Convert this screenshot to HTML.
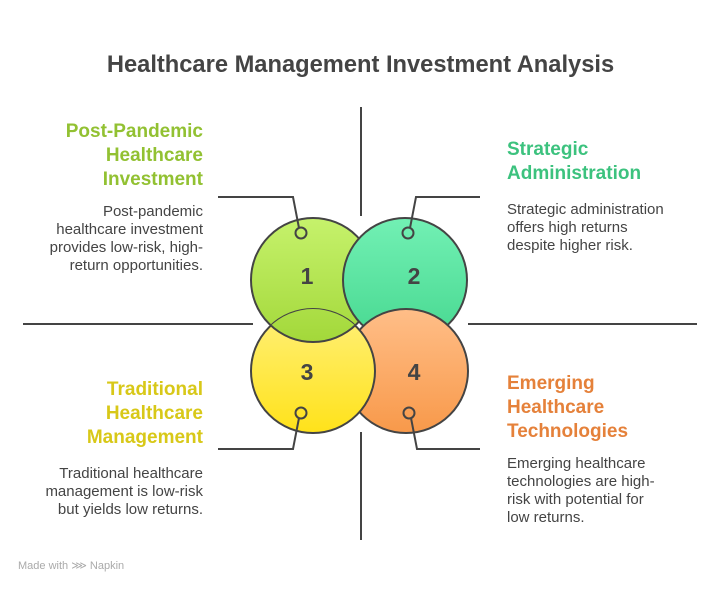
<!DOCTYPE html>
<html><head><style>
body{margin:0;width:721px;height:589px;background:#fff;font-family:"Liberation Sans",sans-serif;overflow:hidden;position:relative}
.t{position:absolute;white-space:nowrap}
.h{font-weight:bold;font-size:19px;line-height:24px}
.b{font-size:15px;line-height:18px;color:#444}
.r{text-align:right}
</style></head><body>
<svg width="721" height="589" style="position:absolute;left:0;top:0">
<defs>
<linearGradient id="g1" x1="0" y1="0" x2="0" y2="1"><stop offset="0" stop-color="#c6f26c"/><stop offset="1" stop-color="#a3d83a"/></linearGradient>
<linearGradient id="g2" x1="0" y1="0" x2="0" y2="1"><stop offset="0" stop-color="#72f0b4"/><stop offset="1" stop-color="#47d890"/></linearGradient>
<linearGradient id="g3" x1="0" y1="0" x2="0" y2="1"><stop offset="0" stop-color="#fff07a"/><stop offset="1" stop-color="#ffe21a"/></linearGradient>
<linearGradient id="g4" x1="0" y1="0" x2="0" y2="1"><stop offset="0" stop-color="#ffbe88"/><stop offset="1" stop-color="#f8994a"/></linearGradient>
<clipPath id="c3"><circle cx="313" cy="371" r="62"/></clipPath>
</defs>
<g stroke="#444" stroke-width="2" fill="none">
<line x1="361" y1="107" x2="361" y2="216"/><line x1="361" y1="432" x2="361" y2="540"/>
<line x1="23" y1="324" x2="253" y2="324"/><line x1="468" y1="324" x2="697" y2="324"/>
</g>
<g stroke="#444" stroke-width="2">
<circle cx="313" cy="280" r="62" fill="url(#g1)"/>
<circle cx="405" cy="280" r="62" fill="url(#g2)"/>
<circle cx="406" cy="371" r="62" fill="url(#g4)"/>
<circle cx="313" cy="371" r="62" fill="url(#g3)"/>
<g clip-path="url(#c3)"><circle cx="313" cy="280" r="62" fill="url(#g1)"/></g>
</g>
<g stroke="#444" stroke-width="2" fill="none">
<polyline points="218,197 293,197 299,228"/>
<polyline points="480,197 416,197 410,228"/>
<polyline points="218,449 293,449 299,418"/>
<polyline points="480,449 417,449 411,418"/>
<circle cx="301" cy="233" r="5.5"/><circle cx="408" cy="233" r="5.5"/>
<circle cx="301" cy="413" r="5.5"/><circle cx="409" cy="413" r="5.5"/>
</g>
<g font-family="Liberation Sans,sans-serif" font-weight="bold" font-size="23" fill="#444" text-anchor="middle">
<text x="307" y="284">1</text><text x="414" y="284">2</text>
<text x="307" y="380">3</text><text x="414" y="380">4</text>
</g>
</svg>
<div class="t" style="left:0;width:721px;top:52px;text-align:center;font-weight:bold;font-size:23.7px;color:#444">Healthcare Management Investment Analysis</div>
<div class="t h r" style="right:518px;top:120px;color:#92c132">Post-Pandemic<br>Healthcare<br>Investment</div>
<div class="t b r" style="right:518px;top:203px">Post-pandemic<br>healthcare investment<br>provides low-risk, high-<br>return opportunities.</div>
<div class="t h" style="left:507px;top:138px;color:#3cc27e">Strategic<br>Administration</div>
<div class="t b" style="left:507px;top:201px">Strategic administration<br>offers high returns<br>despite higher risk.</div>
<div class="t h r" style="right:518px;top:378px;color:#d8c818">Traditional<br>Healthcare<br>Management</div>
<div class="t b r" style="right:518px;top:465px">Traditional healthcare<br>management is low-risk<br>but yields low returns.</div>
<div class="t h" style="left:507px;top:372px;color:#e5813a">Emerging<br>Healthcare<br>Technologies</div>
<div class="t b" style="left:507px;top:455px">Emerging healthcare<br>technologies are high-<br>risk with potential for<br>low returns.</div>
<div class="t" style="left:18px;top:559px;font-size:11px;color:#aaa">Made with ⋙ Napkin</div>
</body></html>
